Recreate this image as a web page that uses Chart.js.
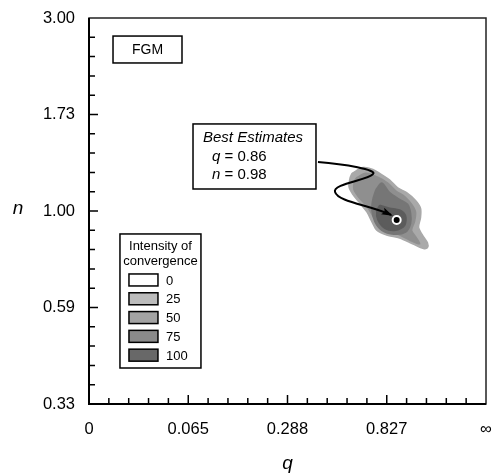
<!DOCTYPE html>
<html>
<head>
<meta charset="utf-8">
<script src="https://cdn.jsdelivr.net/npm/chart.js@4.4.1/dist/chart.umd.min.js"></script>
<style>
html, body { margin: 0; padding: 0; background: #fff; }
</style>
</head>
<body>
<canvas id="chart" width="496" height="476"></canvas>
<script>
// axes are drawn in "position" units 0..4, tick labels carry the real values
const qTickLabels = ['0', '0.065', '0.288', '0.827', '\u221E'];
const nTickLabels = ['0.33', '0.59', '1.00', '1.73', '3.00'];
const levelLabels = ['0', '25', '50', '75', '100'];
const levelColors = ['#ffffff', '#bcbcbc', '#a3a3a3', '#8a8a8a', '#686868'];
const contourColors = ['#a9a9a9', '#8f8f8f', '#767676', '#5c5c5c'];

// contour outlines (q position, n position)
const contour25 = [
    [2.65, 2.39], [2.76, 2.45], [2.86, 2.43], [2.96, 2.37], [3.03, 2.32], [3.11, 2.24],
    [3.20, 2.19], [3.29, 2.11], [3.34, 2.03], [3.34, 1.93], [3.32, 1.83], [3.36, 1.75],
    [3.41, 1.67], [3.41, 1.62], [3.37, 1.61], [3.26, 1.66], [3.13, 1.72], [3.00, 1.75],
    [2.90, 1.80], [2.85, 1.89], [2.80, 1.99], [2.73, 2.08], [2.66, 2.17], [2.62, 2.25],
    [2.63, 2.34]
];
const contour50 = [
    [2.69, 2.34], [2.79, 2.39], [2.91, 2.35], [3.01, 2.29], [3.09, 2.21], [3.18, 2.15],
    [3.25, 2.07], [3.29, 1.99], [3.28, 1.89], [3.25, 1.80], [3.30, 1.72], [3.33, 1.66],
    [3.23, 1.70], [3.11, 1.76], [2.99, 1.80], [2.91, 1.86], [2.86, 1.95], [2.80, 2.05],
    [2.72, 2.14], [2.67, 2.22], [2.67, 2.29]
];
const contour75 = [
    [2.89, 2.22], [2.95, 2.29], [3.03, 2.19], [3.13, 2.12], [3.21, 2.07], [3.24, 1.98],
    [3.24, 1.87], [3.19, 1.78], [3.07, 1.76], [2.95, 1.80], [2.88, 1.89], [2.85, 2.01],
    [2.86, 2.12]
];
const contour100 = [
    [2.93, 2.06], [3.03, 2.03], [3.13, 2.01], [3.19, 1.95], [3.18, 1.85], [3.09, 1.80],
    [2.98, 1.82], [2.91, 1.91], [2.90, 2.00]
];
const contours = [contour25, contour50, contour75, contour100];

const bestEstimate = { q: 3.10, n: 1.907 };
const bestText = { q: '0.86', n: '0.98' };
// callout curve: start, then cubic segments [cp1, cp2, end]
const arrowStart = [2.307, 2.508];
const arrowSegments = [
    [[2.579, 2.487], [2.912, 2.425], [2.861, 2.383]],
    [[2.811, 2.321], [2.448, 2.280], [2.479, 2.197]],
    [[2.509, 2.093], [2.831, 2.062], [3.043, 1.959]]
];

const FONT = "'Liberation Sans', Arial, sans-serif";

const decorations = {
    id: 'decorations',
    afterDraw(chart) {
        const ctx = chart.ctx;
        const ca = chart.chartArea;
        const xs = chart.scales.x;
        const ys = chart.scales.y;
        const px = v => xs.getPixelForValue(v);
        const py = v => ys.getPixelForValue(v);
        ctx.save();

        // frame
        ctx.strokeStyle = '#222';
        ctx.lineWidth = 1.5;
        ctx.strokeRect(ca.left, ca.top, ca.right - ca.left, ca.bottom - ca.top);
        ctx.strokeStyle = '#000';
        ctx.lineWidth = 2;
        ctx.beginPath();
        ctx.moveTo(ca.left, ca.top);
        ctx.lineTo(ca.left, ca.bottom);
        ctx.lineTo(ca.right, ca.bottom);
        ctx.stroke();

        // inward ticks, 5 per major interval
        ctx.lineWidth = 1.5;
        ctx.beginPath();
        for (let k = 1; k < 20; k++) {
            const v = k * 0.2;
            const len = k % 5 === 0 ? 9 : 6;
            ctx.moveTo(ca.left, py(v));
            ctx.lineTo(ca.left + len, py(v));
            ctx.moveTo(px(v), ca.bottom);
            ctx.lineTo(px(v), ca.bottom - len);
        }
        ctx.stroke();

        // axis titles
        ctx.fillStyle = '#000';
        ctx.font = 'italic 19px ' + FONT;
        ctx.textAlign = 'center';
        ctx.textBaseline = 'middle';
        ctx.fillText('n', 18, py(2) - 2);
        ctx.fillText('q', px(2), ca.bottom + 60);

        // FGM box
        ctx.lineWidth = 1.5;
        ctx.strokeStyle = '#000';
        const fx0 = px(0.242), fx1 = px(0.937), fy0 = py(3.813), fy1 = py(3.534);
        ctx.fillStyle = '#fff';
        ctx.fillRect(fx0, fy0, fx1 - fx0, fy1 - fy0);
        ctx.strokeRect(fx0, fy0, fx1 - fx0, fy1 - fy0);
        ctx.fillStyle = '#000';
        ctx.font = '14px ' + FONT;
        ctx.fillText('FGM', (fx0 + fx1) / 2, (fy0 + fy1) / 2 + 1);

        // callout curve with arrow head
        ctx.lineWidth = 2;
        ctx.beginPath();
        ctx.moveTo(px(arrowStart[0]), py(arrowStart[1]));
        let prev = null;
        arrowSegments.forEach(s => {
            ctx.bezierCurveTo(px(s[0][0]), py(s[0][1]), px(s[1][0]), py(s[1][1]), px(s[2][0]), py(s[2][1]));
            prev = s;
        });
        ctx.stroke();
        const tipX = px(prev[2][0]), tipY = py(prev[2][1]);
        const ang = Math.atan2(tipY - py(prev[1][1]), tipX - px(prev[1][0]));
        ctx.beginPath();
        ctx.moveTo(tipX + 2 * Math.cos(ang), tipY + 2 * Math.sin(ang));
        ctx.lineTo(tipX - 10 * Math.cos(ang - 0.38), tipY - 10 * Math.sin(ang - 0.38));
        ctx.lineTo(tipX - 7 * Math.cos(ang), tipY - 7 * Math.sin(ang));
        ctx.lineTo(tipX - 10 * Math.cos(ang + 0.38), tipY - 10 * Math.sin(ang + 0.38));
        ctx.closePath();
        ctx.fill();

        // callout box
        const bx0 = px(1.048), bx1 = px(2.287), by0 = py(2.902), by1 = py(2.228);
        ctx.fillStyle = '#fff';
        ctx.fillRect(bx0, by0, bx1 - bx0, by1 - by0);
        ctx.lineWidth = 1.5;
        ctx.strokeRect(bx0, by0, bx1 - bx0, by1 - by0);
        ctx.fillStyle = '#000';
        ctx.textAlign = 'left';
        ctx.font = 'italic 15px ' + FONT;
        ctx.fillText('Best Estimates', bx0 + 10, by0 + 14);
        const rows = [['q', bestText.q, by0 + 33], ['n', bestText.n, by0 + 51]];
        rows.forEach(r => {
            ctx.font = 'italic 15px ' + FONT;
            ctx.fillText(r[0], bx0 + 19, r[2]);
            const w = ctx.measureText(r[0]).width;
            ctx.font = '15px ' + FONT;
            ctx.fillText(' = ' + r[1], bx0 + 19 + w, r[2]);
        });

        // intensity legend
        const lx0 = px(0.312), lx1 = px(1.128), ly0 = py(1.762), ly1 = py(0.373);
        ctx.fillStyle = '#fff';
        ctx.fillRect(lx0, ly0, lx1 - lx0, ly1 - ly0);
        ctx.lineWidth = 1.5;
        ctx.strokeRect(lx0, ly0, lx1 - lx0, ly1 - ly0);
        ctx.fillStyle = '#000';
        ctx.textAlign = 'center';
        ctx.font = '13px ' + FONT;
        const cx = (lx0 + lx1) / 2;
        ctx.fillText('Intensity of', cx, ly0 + 12);
        ctx.fillText('convergence', cx, ly0 + 27);
        ctx.textAlign = 'left';
        levelLabels.forEach((lab, i) => {
            const yc = ly0 + 46 + i * 18.8;
            ctx.fillStyle = levelColors[i];
            ctx.fillRect(lx0 + 9, yc - 6, 29, 12);
            ctx.strokeStyle = '#000';
            ctx.lineWidth = 1.5;
            ctx.strokeRect(lx0 + 9, yc - 6, 29, 12);
            ctx.fillStyle = '#000';
            ctx.fillText(lab, lx0 + 46, yc + 1);
        });
        ctx.restore();
    }
};

const datasets = contours.map((pts, i) => ({
    data: pts.concat([pts[0]]).map(p => ({ x: p[0], y: p[1] })),
    showLine: true,
    fill: 'shape',
    backgroundColor: contourColors[i],
    borderColor: contourColors[i],
    borderWidth: 1.5,
    pointRadius: 0,
    tension: 0.3,
    order: 10 - i
}));
datasets.push({
    data: [{ x: bestEstimate.q, y: bestEstimate.n }],
    pointRadius: 4,
    pointBackgroundColor: '#000',
    pointBorderColor: '#fff',
    pointBorderWidth: 2,
    order: 0
});

new Chart(document.getElementById('chart'), {
    type: 'scatter',
    data: { datasets: datasets },
    options: {
        responsive: false,
        animation: false,
        devicePixelRatio: 1,
        layout: { padding: { top: 18, right: 10, left: 0, bottom: 0 } },
        plugins: { legend: { display: false }, tooltip: { enabled: false } },
        events: [],
        scales: {
            x: {
                type: 'linear', min: 0, max: 4,
                grid: { display: false, drawTicks: false },
                border: { display: false },
                ticks: {
                    stepSize: 1, autoSkip: false, maxRotation: 0, padding: 16,
                    color: '#000', font: { family: FONT, size: 16.5 },
                    callback: v => qTickLabels[v]
                },
                afterFit: s => { s.height = 72; s.paddingLeft = 0; s.paddingRight = 0; }
            },
            y: {
                type: 'linear', min: 0, max: 4,
                grid: { display: false, drawTicks: false },
                border: { display: false },
                ticks: {
                    stepSize: 1, padding: 14,
                    color: '#000', font: { family: FONT, size: 16.5 },
                    callback: v => nTickLabels[v]
                },
                afterFit: s => { s.width = 89; s.paddingTop = 0; s.paddingBottom = 0; }
            }
        }
    },
    plugins: [decorations]
});
</script>
</body>
</html>
